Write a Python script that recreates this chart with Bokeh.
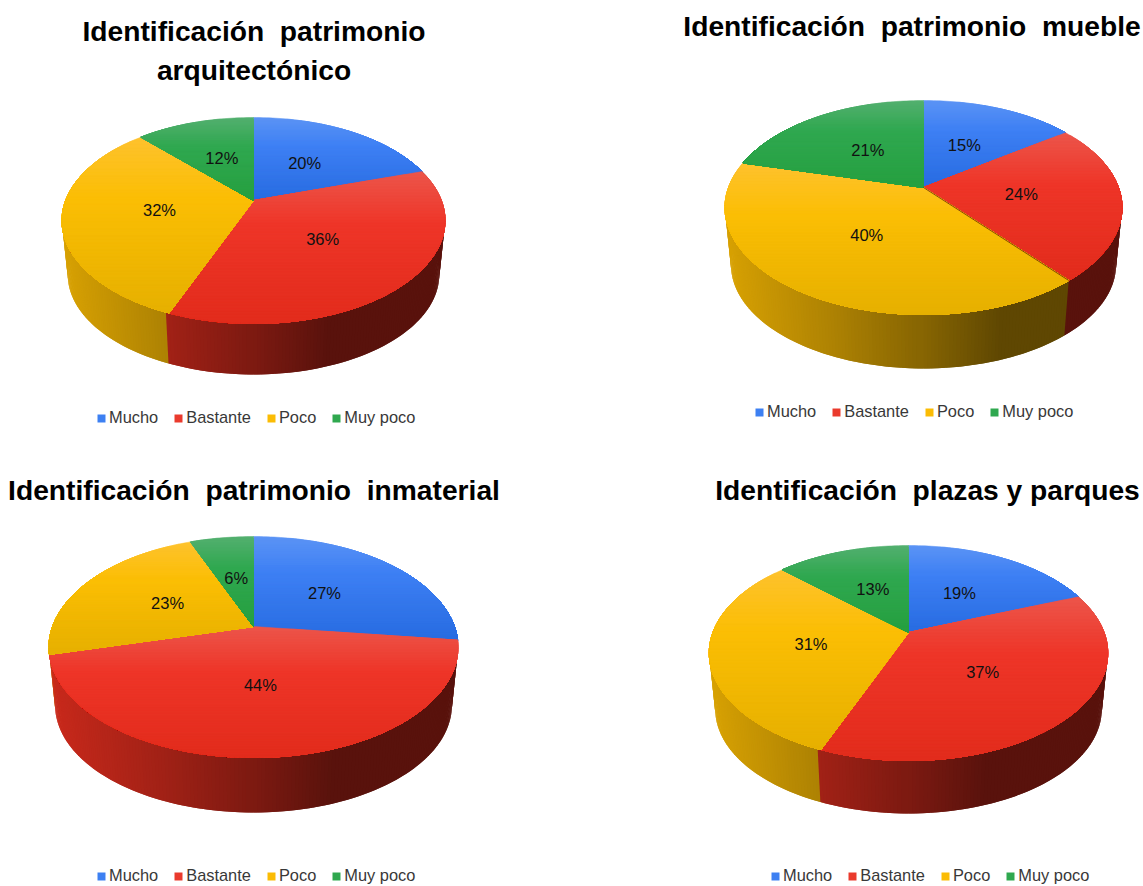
import math
import numpy as np
from bokeh.core.properties import value
from bokeh.embed import file_html
from bokeh.layouts import column, row
from bokeh.models import Legend, LegendItem, Range1d
from bokeh.plotting import figure
from bokeh.resources import INLINE

CATEGORIES = ["Mucho", "Bastante", "Poco", "Muy poco"]
VALUES_ARQUITECTONICO = [20, 36, 32, 12]
VALUES_MUEBLE = [15, 24, 40, 21]
VALUES_INMATERIAL = [27, 44, 23, 6]
VALUES_PLAZAS = [19, 37, 31, 13]

NB = "\u00a0\u00a0"
TITLE_ARQUITECTONICO = [f"Identificación{NB}patrimonio", "arquitectónico"]
TITLE_MUEBLE = [f"Identificación{NB}patrimonio{NB}mueble"]
TITLE_INMATERIAL = [f"Identificación{NB}patrimonio{NB}inmaterial"]
TITLE_PLAZAS = [f"Identificación{NB}plazas y parques"]

# top / mid / bottom tints of the top face, per category
TOP_COLORS = [
    [(92, 148, 245), (62, 128, 244), (40, 108, 225)],
    [(236, 86, 75), (238, 53, 40), (226, 44, 28)],
    [(254, 194, 46), (251, 190, 4), (230, 176, 0)],
    [(84, 176, 112), (48, 168, 80), (38, 160, 64)],
]
SIDE_COLORS = [(66, 133, 244), (234, 48, 32), (251, 188, 4), (52, 168, 83)]
SWATCHES = ["#3d80f2", "#ea3a2d", "#fbbc04", "#2fa84f"]

LEFT_W, RIGHT_W = 571, 572
TOP_H, BOTTOM_H = 443, 443
FONT = "Liberation Sans"


def hexcol(c):
    return "#%02x%02x%02x" % tuple(int(round(min(255, max(0, v)))) for v in c)


def clip(poly, y0):
    out = []
    for i in range(len(poly)):
        a, b = poly[i], poly[(i + 1) % len(poly)]
        ina, inb = a[1] >= y0, b[1] >= y0
        if ina:
            out.append(a)
        if ina != inb:
            f = (y0 - a[1]) / (b[1] - a[1])
            out.append((a[0] + f * (b[0] - a[0]), y0))
    return out


def draw_pie(box, values, title_lines, title_ys, title_x, cx, cy, top, bot, left, right,
             depth_y, legend_x, legend_y, dark_edge=None):
    x0, x1, y0, y1 = box
    p = figure(width=x1 - x0, height=y1 - y0, x_range=Range1d(x0, x1), y_range=Range1d(y1, y0),
               output_backend="svg", toolbar_location=None, min_border=0)
    p.axis.visible = False
    p.grid.visible = False
    p.outline_line_color = None

    up, dn = cy - top, bot - cy
    t = (dn - up) / (dn + up)
    B = up * (1 + t)
    hw = (right - left) / 2
    A = hw * math.sqrt(1 - t * t)
    sq = 0.97

    def proj(theta, r=1.0, scale=1.0, off=0.0):
        u, v = r * math.sin(theta), r * math.cos(theta)
        d = 1 + t * v
        return cx + scale * A * u / d, cy + off - scale * B * v / d

    fr = np.cumsum([0] + list(values)) / sum(values)

    # legend swatch renderers: zero-sized quads, hidden beneath the pie
    items = []
    for name, col in zip(CATEGORIES, SWATCHES):
        r = p.quad(left=[cx], right=[cx], top=[cy], bottom=[cy], fill_color=col, line_color=None)
        items.append(LegendItem(label=name, renderers=[r]))

    # side wall: thin overlapping strips, back to front
    off = bot + depth_y - sq * dn - cy
    strips = []
    n = 400
    for i in range(n):
        th0, th1 = 2 * math.pi * i / n, 2 * math.pi * (i + 2.0) / n
        mid = 2 * math.pi * (i + 0.5) / n
        if math.cos(mid) > 0.4:
            continue
        idx = int(np.searchsorted(fr, (i + 0.5) / n) - 1)
        strips.append((math.cos(mid), th0, th1, idx))
    strips.sort(key=lambda s: -s[0])
    xs, ys, cols = [], [], []
    for _, th0, th1, idx in strips:
        a, b = proj(th0), proj(th1)
        c, d = proj(th1, 1, sq, off), proj(th0, 1, sq, off)
        xs.append([a[0], b[0], c[0], d[0]])
        ys.append([a[1], b[1], c[1], d[1]])
        pos = (a[0] - cx) / hw
        s = np.interp(pos, [-1, -0.4, 0, 0.4, 1], [0.86, 0.68, 0.54, 0.38, 0.38])
        cols.append(hexcol([s * v for v in SIDE_COLORS[idx]]))
    p.patches(xs, ys, fill_color=cols, line_color=None)

    # top face: bands per slice, each painted over the previous one
    xs, ys, cols = [], [], []
    for idx in range(len(values)):
        a0, a1 = 2 * math.pi * fr[idx], 2 * math.pi * fr[idx + 1]
        m = max(4, int((a1 - a0) / 0.02))
        rim = [proj(a0 + (a1 - a0) * k / m) for k in range(m + 1)]
        poly = [(cx, cy)] + rim
        ymin, ymax = min(q[1] for q in poly), max(q[1] for q in poly)
        nb = 50
        for b in range(nb):
            band = clip(poly, ymin + (ymax - ymin) * b / nb)
            if len(band) < 3:
                continue
            f = (b + 0.5) / nb
            tri = TOP_COLORS[idx]
            col = [np.interp(f, [0, 0.35, 1], [tri[0][k], tri[1][k], tri[2][k]]) for k in range(3)]
            xs.append([q[0] for q in band])
            ys.append([q[1] for q in band])
            cols.append(hexcol(col))
    p.patches(xs, ys, fill_color=cols, line_color=cols, line_width=0.5)

    if dark_edge is not None:
        q = proj(2 * math.pi * fr[dark_edge])
        p.line([cx, q[0]], [cy, q[1]], line_color="#5a1a08", line_width=0.9, line_alpha=0.8)

    # percentage labels
    lx, ly, lt = [], [], []
    for idx, val in enumerate(values):
        q = proj(2 * math.pi * (fr[idx] + fr[idx + 1]) / 2, 0.5)
        lx.append(q[0]); ly.append(q[1]); lt.append(f"{val}%")
    p.text(lx, ly, text=lt, text_font=value(FONT), text_font_size="16.5px", text_color="#111111",
           text_align="center", text_baseline="middle")

    # title
    p.text([title_x] * len(title_lines), title_ys, text=title_lines, text_font=value(FONT),
           text_font_size="28.2px", text_font_style="bold", text_color="#000000",
           text_align="center", text_baseline="middle")

    # legend
    leg = Legend(items=items, orientation="horizontal", location=(legend_x - x0, y1 - legend_y - 9),
                 glyph_width=10, glyph_height=10, label_standoff=3, spacing=15, padding=0, margin=0,
                 border_line_color=None, background_fill_color=None, background_fill_alpha=0,
                 label_text_font=FONT, label_text_font_size="16.4px", label_text_color="#383838",
                 label_height=18)
    p.add_layout(leg, "center")
    return p


X0, X1, X2 = 0, LEFT_W, LEFT_W + RIGHT_W
Y0, Y1, Y2 = 0, TOP_H, TOP_H + BOTTOM_H

p1 = draw_pie((X0, X1, Y0, Y1), VALUES_ARQUITECTONICO, TITLE_ARQUITECTONICO, [30, 69], 253.5,
              253, 200, 117, 323, 62, 445, 51, 96, 418)
p2 = draw_pie((X1, X2, Y0, Y1), VALUES_MUEBLE, TITLE_MUEBLE, [25], 911.5,
              923, 187, 100, 314, 725, 1122, 54, 754, 412, dark_edge=2)
p3 = draw_pie((X0, X1, Y1, Y2), VALUES_INMATERIAL, TITLE_INMATERIAL, [489], 253.5,
              253, 626, 536, 757, 49, 458, 55, 96, 876)
p4 = draw_pie((X1, X2, Y1, Y2), VALUES_PLAZAS, TITLE_PLAZAS, [489], 927,
              908, 632, 545, 760, 708.5, 1107, 53, 770, 876)

page = column(row(p1, p2, spacing=0), row(p3, p4, spacing=0), spacing=0)
open("out.html", "w").write(file_html(page, INLINE))
